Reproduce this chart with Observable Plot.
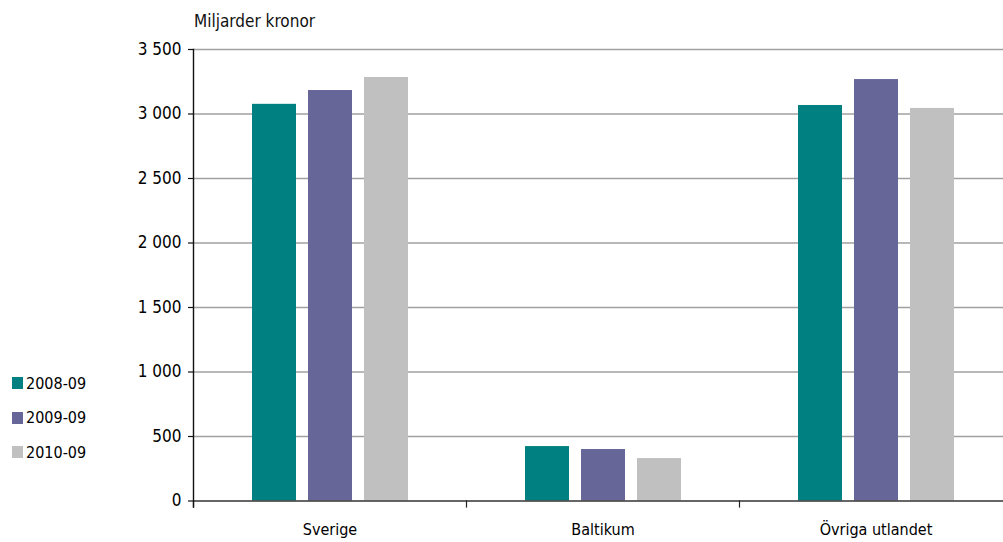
<!DOCTYPE html>
<html>
<head>
<meta charset="utf-8">
<script src="https://cdn.jsdelivr.net/npm/d3@7"></script>
<script src="https://cdn.jsdelivr.net/npm/@observablehq/plot@0.6"></script>
<style>
  html, body { margin: 0; padding: 0; background: #fff; overflow: hidden; }
  #wrap { position: relative; width: 1003px; height: 542px; overflow: hidden;
          font-family: "DejaVu Sans Condensed", "DejaVu Sans", sans-serif; color: #000; }
  #chart { position: absolute; left: 0; top: 0; width: 1012px; }
  #chart svg { max-width: none !important; }
  #title { position: absolute; left: 194px; top: 13px; font-size: 17px; line-height: 17px; color: #111; }
  #legend { position: absolute; left: 12px; top: 366px; font-size: 16px; }
  .row { display: flex; align-items: center; height: 34.5px; }
  .sw { width: 11px; height: 12px; margin-right: 3px; }
</style>
</head>
<body>
<div id="wrap">
  <div id="chart"></div>
  <div id="title">Miljarder kronor</div>
  <div id="legend"></div>
</div>
<script>
// Categories and series
const regions = ["Sverige", "Baltikum", "Övriga utlandet"];
const years = ["2008-09", "2009-09", "2010-09"];
const values2008 = [3075, 422, 3066];
const values2009 = [3182, 399, 3267];
const values2010 = [3283, 329, 3043];
const colors = ["#008080", "#666699", "#c0c0c0"];
const yTicks = [0, 500, 1000, 1500, 2000, 2500, 3000, 3500];

// Long-format table for the bars
const series = [values2008, values2009, values2010];
const data = [];
regions.forEach((r, i) => years.forEach((y, j) => data.push({region: r, year: y, value: series[j][i]})));

// Swedish number format with a space as thousands separator
const fmt = d3.formatLocale({decimal: ",", thousands: " ", grouping: [3], currency: ["", " kr"]}).format(",");

const width = 1012, height = 542, marginTop = 49, marginBottom = 41.5;
const innerH = height - marginTop - marginBottom;

const chart = Plot.plot({
  width, height,
  marginTop, marginBottom, marginLeft: 193, marginRight: 0,
  style: {fontFamily: "'DejaVu Sans Condensed', 'DejaVu Sans', sans-serif", fontSize: "16px", color: "#000", background: "#fff", maxWidth: "none"},
  fx: {domain: regions, padding: 0, label: null},
  x: {domain: years, paddingInner: 0.22, paddingOuter: 1.03, axis: null},
  y: {domain: [0, 3500], label: null},
  color: {domain: years, range: colors},
  marks: [
    Plot.gridY(yTicks.filter(d => d > 0), {stroke: "#a0a0a0", strokeOpacity: 1, strokeWidth: 1.5}),
    Plot.barY(data, {fx: "region", x: "year", y: "value", fill: "year"}),
    Plot.ruleY([0], {stroke: "#333", strokeWidth: 1.6}),
    // tick marks separating the categories
    Plot.frame({anchor: "left", insetTop: innerH, insetBottom: -6, stroke: "#222", strokeWidth: 1.2}),
    // vertical value axis line
    Plot.frame({anchor: "left", fx: () => regions[0], insetBottom: -6, stroke: "#111", strokeWidth: 1.4}),
    Plot.axisY(yTicks, {tickSize: 5, tickPadding: 7, tickFormat: fmt, fontSize: 17, stroke: "#111", strokeWidth: 1.2}),
    Plot.axisFx({anchor: "bottom", tickSize: 0, tickPadding: 23, label: null, fontSize: 16})
  ]
});
document.getElementById("chart").appendChild(chart);

// Legend
const legend = document.getElementById("legend");
years.forEach((y, i) => {
  const row = document.createElement("div");
  row.className = "row";
  const sw = document.createElement("div");
  sw.className = "sw";
  sw.style.background = colors[i];
  const t = document.createElement("span");
  t.textContent = y;
  row.appendChild(sw);
  row.appendChild(t);
  legend.appendChild(row);
});
</script>
</body>
</html>
